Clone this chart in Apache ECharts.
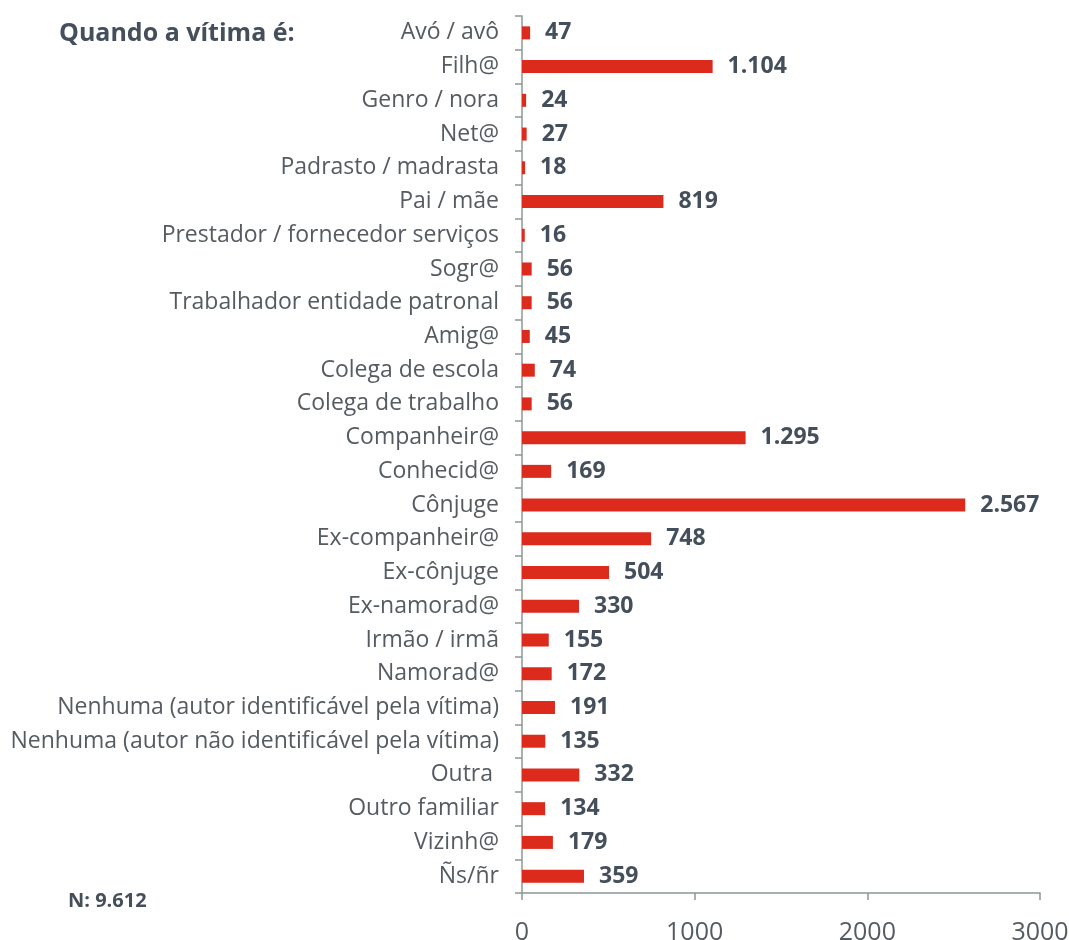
<!DOCTYPE html>
<html>
<head>
<meta charset="utf-8">
<script src="https://cdn.jsdelivr.net/npm/echarts@6/dist/echarts.min.js"></script>
<style>
  html, body { margin: 0; padding: 0; background: #fff; }
  #chart { width: 1069px; height: 940px; }
</style>
</head>
<body>
<div id="chart"></div>
<script>
  // categorias, de cima para baixo
  var categories = [
    'Avó / avô', 'Filh@', 'Genro / nora', 'Net@', 'Padrasto / madrasta', 'Pai / mãe',
    'Prestador / fornecedor serviços', 'Sogr@', 'Trabalhador entidade patronal', 'Amig@',
    'Colega de escola', 'Colega de trabalho', 'Companheir@', 'Conhecid@', 'Cônjuge',
    'Ex-companheir@', 'Ex-cônjuge', 'Ex-namorad@', 'Irmão / irmã', 'Namorad@',
    'Nenhuma (autor identificável pela vítima)', 'Nenhuma (autor não identificável pela vítima)',
    'Outra ', 'Outro familiar', 'Vizinh@', 'Ñs/ñr'
  ];
  var values = [47, 1104, 24, 27, 18, 819, 16, 56, 56, 45, 74, 56, 1295, 169, 2567,
    748, 504, 330, 155, 172, 191, 135, 332, 134, 179, 359];
  var xTicks = [0, 1000, 2000, 3000];

  var textColor = '#454f5b';
  var axisColor = '#8c9893';
  var font = '"Open Sans", "Noto Sans", sans-serif';

  function fmt(v) {
    return String(v).replace(/\B(?=(\d{3})+(?!\d))/g, '.');
  }

  var myChart = echarts.init(document.getElementById('chart'));
  var option = {
    animation: false,
    textStyle: { fontFamily: font },
    title: [
      {
        text: 'Quando a vítima é:',
        left: 54, top: 16,
        textStyle: { fontFamily: font, fontSize: 25, fontWeight: 'bold', color: textColor }
      },
      {
        text: 'N: 9.612',
        left: 63, top: 886,
        textStyle: { fontFamily: font, fontSize: 20, fontWeight: 'bold', color: textColor }
      }
    ],
    grid: { left: 522, right: 29, top: 16, bottom: 47, containLabel: false, outerBoundsMode: 'none' },
    xAxis: {
      type: 'value',
      min: xTicks[0],
      max: xTicks[xTicks.length - 1],
      interval: 1000,
      axisLine: { show: true, lineStyle: { color: axisColor, width: 1.5 } },
      axisTick: { show: true, length: 7, lineStyle: { color: axisColor, width: 1.5 } },
      splitLine: { show: false },
      axisLabel: {
        color: '#555b60', fontSize: 25, margin: 27, fontFamily: font,
        formatter: function (v) { return String(v); }
      }
    },
    yAxis: {
      type: 'category',
      inverse: true,
      data: categories,
      axisLine: { show: true, lineStyle: { color: axisColor, width: 1.5 } },
      axisTick: { show: true, length: 7, lineStyle: { color: axisColor, width: 1.5 } },
      axisLabel: { color: '#555b60', fontSize: 23, margin: 23, fontFamily: font }
    },
    series: [{
      type: 'bar',
      data: values,
      barWidth: 13,
      itemStyle: { color: '#dc2a1d' },
      label: {
        show: true,
        position: 'right',
        distance: 15,
        color: textColor,
        fontSize: 23,
        fontWeight: 'bold',
        fontFamily: font,
        formatter: function (p) { return fmt(p.value); }
      }
    }]
  };
  myChart.setOption(option, true);
</script>
</body>
</html>
